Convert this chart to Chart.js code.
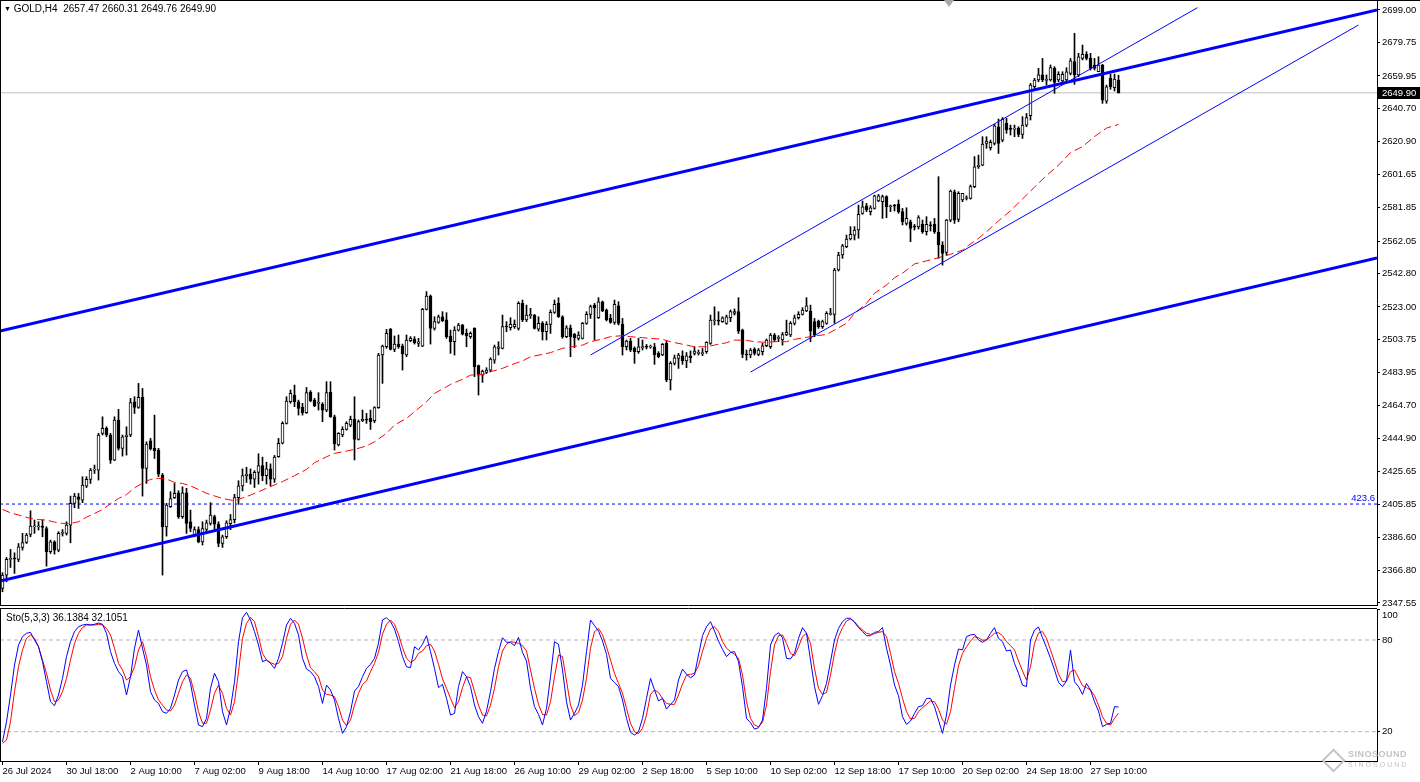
<!DOCTYPE html>
<html>
<head>
<meta charset="utf-8">
<script src="https://cdn.jsdelivr.net/npm/chart.js@4.4.1/dist/chart.umd.min.js"></script>
<style>
  html, body { margin: 0; padding: 0; background: #fff; }
  #wrap { position: relative; width: 1420px; height: 782px; overflow: hidden; font-family: 'Liberation Sans', Arial, sans-serif; }
  canvas { position: absolute; left: 0; }
  #price { top: 0; }
  #sto { top: 600px; }
  .label { position: absolute; font-size: 10px; color: #000; white-space: pre; line-height: 12px; }
  #title { left: 4px; top: 3px; }
  #title .tri { font-size: 7px; vertical-align: 1px; }
  #stoTitle { left: 6px; top: 612px; }
  #shift { position: absolute; left: 944px; top: 0; width: 0; height: 0;
    border-left: 5px solid transparent; border-right: 5px solid transparent; border-top: 7px solid #a8a8a8; }
  #mark { position: absolute; left: 1322px; top: 746px; width: 96px; height: 30px; color: #c4c4c4; }
  #mark .logo { position: absolute; left: 3px; top: 6px; width: 13px; height: 13px; border: 2px solid #c4c4c4; transform: rotate(45deg); }
  #mark .name { position: absolute; left: 26px; top: 3px; font-size: 9px; font-weight: bold; letter-spacing: 0.5px; }
  #mark .sub { position: absolute; left: 26px; top: 15px; font-size: 7px; letter-spacing: 2px; }
</style>
</head>
<body>
<div id="wrap">
  <canvas id="price" width="1420" height="612"></canvas>
  <canvas id="sto" width="1420" height="182"></canvas>
  <div id="title" class="label"><span class="tri">▼</span> GOLD,H4  2657.47 2660.31 2649.76 2649.90</div>
  <div id="stoTitle" class="label">Sto(5,3,3) 36.1384 32.1051</div>
  <div id="shift"></div>
  <div id="mark"><div class="logo"></div><div class="name">SINOSOUND</div><div class="sub">SINOSOUND</div></div>
</div>
<script>
// GOLD H4 candles, one per bar (index 0 = 26 Jul 2024)
const opens = [
  2356.2, 2364.1, 2373.4, 2373.8, 2373.4, 2380.5, 2383.4, 2388.2, 2392.7, 2392.7,
  2393.1, 2391.7, 2377.9, 2383.8, 2378.9, 2388.8, 2388.8, 2393.7, 2406.6, 2410.5,
  2408.5, 2416.8, 2420.8, 2426.3, 2426.3, 2448.1, 2451.0, 2447.1, 2432.2, 2456.0,
  2439.2, 2446.1, 2447.1, 2466.8, 2463.5, 2469.4, 2427.3, 2443.7, 2439.2, 2438.2,
  2423.4, 2392.7, 2404.6, 2409.9, 2412.9, 2398.7, 2412.9, 2395.7, 2387.8, 2391.1,
  2383.8, 2391.1, 2394.7, 2398.7, 2394.3, 2382.8, 2386.8, 2394.5, 2397.0, 2410.0,
  2417.0, 2423.0, 2424.0, 2421.0, 2425.0, 2429.0, 2423.0, 2427.0, 2421.0, 2434.2,
  2442.2, 2454.0, 2466.8, 2470.8, 2466.8, 2463.5, 2460.3, 2472.4, 2467.8, 2465.9,
  2465.3, 2461.9, 2472.4, 2457.9, 2441.2, 2447.1, 2450.4, 2453.0, 2456.4, 2444.5,
  2455.6, 2456.4, 2457.0, 2455.6, 2463.3, 2494.5, 2499.5, 2509.7, 2497.9, 2501.0,
  2499.8, 2494.5, 2503.0, 2504.0, 2501.4, 2499.8, 2521.6, 2529.5, 2510.3, 2513.9,
  2517.2, 2515.3, 2505.8, 2502.4, 2509.3, 2512.3, 2507.3, 2505.4, 2510.3, 2488.2,
  2482.6, 2484.2, 2485.6, 2491.5, 2498.5, 2498.5, 2511.3, 2510.7, 2511.3, 2510.3,
  2525.1, 2515.3, 2517.8, 2518.2, 2509.9, 2513.3, 2508.3, 2512.7, 2519.8, 2525.1,
  2517.2, 2505.4, 2510.7, 2506.8, 2504.4, 2504.4, 2513.3, 2518.6, 2524.1, 2516.6,
  2526.1, 2521.2, 2516.2, 2513.9, 2523.7, 2512.7, 2499.4, 2502.8, 2498.5, 2496.5,
  2498.9, 2499.4, 2499.2, 2499.4, 2495.5, 2494.5, 2501.4, 2479.7, 2489.6, 2492.5,
  2494.0, 2491.0, 2494.0, 2495.5, 2495.5, 2495.3, 2496.5, 2501.4, 2514.8, 2514.8,
  2514.3, 2513.3, 2516.6, 2519.2, 2520.2, 2509.3, 2494.9, 2494.5, 2498.1, 2494.9,
  2496.5, 2500.0, 2499.4, 2506.4, 2504.4, 2503.4, 2506.4, 2506.4, 2513.3, 2516.6,
  2518.6, 2520.6, 2520.6, 2514.3, 2514.6, 2511.3, 2513.3, 2518.6, 2518.6, 2544.9,
  2553.8, 2558.7, 2563.3, 2565.6, 2568.6, 2578.5, 2583.0, 2579.5, 2581.4, 2585.8,
  2585.4, 2588.4, 2582.4, 2583.0, 2583.8, 2579.5, 2572.5, 2573.5, 2570.5, 2570.5,
  2571.9, 2567.6, 2571.5, 2571.9, 2567.2, 2559.7, 2555.3, 2574.5, 2591.3, 2574.9,
  2586.4, 2587.3, 2587.3, 2594.3, 2606.1, 2607.1, 2619.9, 2617.4, 2619.9, 2629.8,
  2621.9, 2631.8, 2628.4, 2628.4, 2628.8, 2625.3, 2630.8, 2636.4, 2653.5, 2657.5,
  2660.5, 2657.3, 2657.5, 2664.4, 2657.5, 2656.9, 2657.5, 2661.4, 2668.4, 2660.5,
  2670.3, 2672.7, 2670.3, 2666.4, 2662.4, 2666.4, 2645.0, 2658.5, 2653.0, 2657.47
];
const highs = [
  2365.5, 2374.5, 2379.3, 2377.3, 2382.8, 2388.8, 2388.8, 2402.2, 2396.7, 2395.7,
  2396.7, 2392.7, 2384.8, 2384.4, 2389.8, 2391.1, 2395.7, 2410.9, 2412.5, 2412.5,
  2422.4, 2422.4, 2427.3, 2429.3, 2448.1, 2457.9, 2452.0, 2448.1, 2457.9, 2462.3,
  2447.1, 2452.0, 2468.8, 2469.8, 2477.7, 2474.7, 2443.1, 2445.1, 2458.9, 2439.2,
  2424.3, 2406.6, 2413.5, 2418.4, 2414.1, 2416.4, 2415.5, 2402.6, 2392.7, 2392.7,
  2395.7, 2396.7, 2407.0, 2399.6, 2395.7, 2387.8, 2396.3, 2400.0, 2412.0, 2420.0,
  2427.0, 2428.0, 2427.0, 2426.0, 2436.0, 2434.0, 2431.0, 2430.0, 2435.0, 2445.1,
  2455.0, 2469.8, 2473.8, 2476.7, 2467.8, 2465.9, 2475.3, 2473.4, 2468.8, 2472.2,
  2466.3, 2478.7, 2478.7, 2458.9, 2448.5, 2452.0, 2455.0, 2458.3, 2469.8, 2456.0,
  2461.9, 2459.9, 2461.9, 2463.9, 2495.5, 2500.4, 2509.7, 2510.3, 2505.8, 2506.4,
  2501.0, 2506.4, 2505.4, 2505.4, 2504.4, 2522.2, 2532.1, 2530.1, 2517.2, 2518.2,
  2520.2, 2519.6, 2509.3, 2511.3, 2513.3, 2512.7, 2509.9, 2508.3, 2510.7, 2488.6,
  2485.6, 2487.0, 2492.9, 2500.4, 2502.4, 2518.2, 2514.3, 2516.6, 2515.3, 2526.1,
  2527.1, 2524.1, 2522.2, 2518.6, 2517.2, 2514.3, 2514.3, 2521.2, 2527.1, 2528.5,
  2517.8, 2511.9, 2512.3, 2507.3, 2508.3, 2513.9, 2520.2, 2524.1, 2525.1, 2528.5,
  2526.5, 2521.8, 2518.6, 2527.1, 2526.1, 2516.2, 2503.4, 2504.4, 2499.4, 2504.4,
  2503.4, 2500.8, 2500.4, 2501.4, 2496.5, 2501.4, 2502.8, 2490.6, 2494.5, 2495.5,
  2497.0, 2496.0, 2497.0, 2499.4, 2497.5, 2498.4, 2502.4, 2518.2, 2523.1, 2520.2,
  2517.2, 2518.2, 2521.2, 2521.8, 2528.5, 2509.9, 2497.5, 2498.4, 2498.8, 2498.4,
  2501.4, 2504.0, 2507.3, 2507.3, 2506.0, 2507.9, 2515.2, 2514.3, 2518.2, 2520.2,
  2522.6, 2528.5, 2524.1, 2516.2, 2515.2, 2515.2, 2520.2, 2522.2, 2545.9, 2555.4,
  2560.1, 2565.6, 2570.6, 2570.6, 2583.4, 2585.8, 2584.4, 2583.0, 2589.3, 2589.7,
  2589.3, 2588.9, 2583.4, 2583.8, 2586.4, 2581.4, 2581.8, 2574.5, 2571.9, 2577.1,
  2574.5, 2576.5, 2573.5, 2575.5, 2600.2, 2561.7, 2574.9, 2592.3, 2592.3, 2591.3,
  2590.3, 2588.9, 2595.3, 2612.1, 2613.0, 2623.9, 2623.9, 2621.9, 2631.2, 2634.4,
  2635.2, 2634.8, 2630.8, 2630.8, 2629.8, 2635.8, 2637.7, 2655.5, 2658.5, 2664.4,
  2670.3, 2660.5, 2666.4, 2665.4, 2662.4, 2662.4, 2664.8, 2670.3, 2685.2, 2673.3,
  2678.2, 2674.3, 2673.3, 2670.3, 2671.3, 2666.8, 2654.5, 2661.0, 2661.0, 2660.31
];
const lows = [
  2354.2, 2360.1, 2368.6, 2365.1, 2372.0, 2378.9, 2382.8, 2386.8, 2388.8, 2390.8,
  2386.8, 2369.4, 2376.9, 2376.5, 2377.9, 2387.2, 2387.8, 2383.2, 2404.0, 2403.6,
  2407.0, 2416.0, 2418.4, 2424.3, 2420.4, 2447.1, 2446.1, 2430.3, 2431.9, 2438.2,
  2434.6, 2435.2, 2446.1, 2459.9, 2462.9, 2410.9, 2418.4, 2438.2, 2433.2, 2422.4,
  2364.1, 2387.2, 2404.2, 2409.5, 2397.7, 2397.7, 2388.8, 2389.8, 2386.8, 2383.2,
  2381.9, 2389.8, 2393.7, 2391.1, 2380.9, 2380.5, 2385.8, 2391.0, 2395.0, 2406.0,
  2414.0, 2419.0, 2418.0, 2416.0, 2418.0, 2420.0, 2418.0, 2417.0, 2419.0, 2433.9,
  2441.8, 2453.6, 2465.9, 2463.9, 2458.9, 2458.9, 2459.9, 2466.8, 2463.9, 2461.9,
  2455.0, 2460.9, 2457.6, 2438.2, 2440.6, 2446.1, 2450.0, 2452.0, 2432.3, 2444.1,
  2455.0, 2454.0, 2450.4, 2454.4, 2462.9, 2477.7, 2498.5, 2497.5, 2496.5, 2498.5,
  2485.6, 2493.5, 2502.4, 2501.0, 2499.5, 2499.5, 2521.2, 2501.0, 2509.3, 2513.3,
  2514.3, 2504.4, 2495.5, 2494.5, 2508.7, 2506.4, 2499.4, 2504.4, 2481.7, 2470.8,
  2478.3, 2483.6, 2484.6, 2489.6, 2494.5, 2498.1, 2508.3, 2509.3, 2510.3, 2509.3,
  2514.3, 2514.3, 2516.2, 2509.9, 2508.7, 2503.4, 2503.4, 2507.3, 2519.2, 2516.8,
  2504.4, 2504.8, 2493.5, 2498.9, 2503.4, 2504.0, 2512.7, 2516.2, 2503.4, 2516.2,
  2520.2, 2514.7, 2513.3, 2512.7, 2512.3, 2494.5, 2497.5, 2496.5, 2489.6, 2495.5,
  2497.5, 2498.1, 2498.5, 2489.0, 2492.9, 2494.1, 2478.7, 2473.8, 2488.6, 2486.6,
  2489.0, 2487.0, 2490.0, 2494.5, 2494.5, 2494.1, 2495.5, 2500.8, 2512.3, 2512.3,
  2513.9, 2512.7, 2514.3, 2518.2, 2507.3, 2492.9, 2491.5, 2492.9, 2494.5, 2494.1,
  2494.5, 2499.4, 2498.4, 2502.4, 2502.4, 2500.4, 2506.0, 2505.4, 2512.3, 2515.8,
  2518.2, 2520.2, 2502.4, 2505.4, 2510.3, 2510.3, 2512.7, 2518.2, 2513.3, 2544.3,
  2551.8, 2558.1, 2562.7, 2562.7, 2563.7, 2577.9, 2579.5, 2577.5, 2581.0, 2585.4,
  2575.5, 2575.9, 2579.5, 2579.9, 2578.5, 2571.6, 2571.5, 2561.7, 2568.6, 2569.2,
  2566.6, 2565.6, 2568.0, 2566.6, 2551.8, 2547.8, 2553.8, 2573.5, 2572.5, 2573.5,
  2585.4, 2586.4, 2586.9, 2593.7, 2605.1, 2606.7, 2617.0, 2616.0, 2619.0, 2614.0,
  2620.9, 2625.9, 2624.9, 2623.9, 2623.9, 2622.9, 2629.8, 2633.8, 2652.5, 2656.5,
  2656.5, 2654.5, 2656.9, 2649.6, 2656.5, 2656.5, 2656.9, 2660.5, 2654.9, 2659.5,
  2669.4, 2669.4, 2663.4, 2663.4, 2662.4, 2643.7, 2643.7, 2652.0, 2651.0, 2649.76
];
const closes = [
  2364.1, 2373.4, 2374.0, 2373.6, 2380.9, 2383.4, 2387.8, 2393.1, 2393.3, 2392.9,
  2392.3, 2377.9, 2383.8, 2378.9, 2388.8, 2389.2, 2393.7, 2406.6, 2410.9, 2408.9,
  2417.4, 2420.8, 2426.3, 2426.7, 2447.1, 2451.0, 2447.1, 2432.2, 2456.0, 2439.2,
  2446.1, 2447.1, 2466.4, 2463.5, 2469.4, 2427.3, 2441.7, 2439.0, 2437.8, 2423.9,
  2392.7, 2405.6, 2409.5, 2412.5, 2398.7, 2412.9, 2394.7, 2391.7, 2391.1, 2383.8,
  2391.7, 2395.1, 2399.6, 2394.3, 2382.8, 2386.8, 2395.1, 2397.0, 2410.0, 2417.0,
  2423.0, 2424.0, 2421.0, 2425.0, 2429.0, 2423.0, 2427.0, 2421.0, 2434.0, 2442.2,
  2454.0, 2467.2, 2471.8, 2466.8, 2462.9, 2460.3, 2472.2, 2467.4, 2464.3, 2466.3,
  2461.9, 2472.2, 2457.9, 2441.8, 2448.1, 2450.4, 2454.0, 2456.4, 2444.5, 2455.0,
  2456.4, 2456.0, 2455.0, 2463.3, 2494.5, 2499.8, 2507.4, 2497.9, 2501.0, 2499.5,
  2495.1, 2503.4, 2504.4, 2501.8, 2502.4, 2521.6, 2529.5, 2510.3, 2514.3, 2517.2,
  2514.9, 2505.4, 2502.4, 2509.3, 2512.3, 2506.8, 2506.0, 2507.3, 2487.6, 2482.6,
  2485.0, 2485.6, 2492.1, 2499.4, 2499.4, 2511.3, 2511.1, 2512.7, 2512.7, 2525.1,
  2515.3, 2518.2, 2518.6, 2510.3, 2513.3, 2508.3, 2512.7, 2519.8, 2524.5, 2517.2,
  2505.4, 2510.7, 2505.4, 2504.8, 2506.4, 2513.3, 2518.6, 2523.2, 2522.6, 2526.1,
  2520.6, 2515.3, 2513.9, 2524.5, 2513.3, 2499.4, 2502.8, 2497.5, 2496.5, 2499.4,
  2499.4, 2499.2, 2499.4, 2494.5, 2493.5, 2500.8, 2479.7, 2489.6, 2492.9, 2494.5,
  2491.0, 2494.0, 2493.0, 2496.9, 2495.7, 2495.9, 2502.0, 2515.2, 2515.0, 2514.6,
  2516.6, 2517.2, 2520.2, 2520.2, 2508.7, 2494.9, 2494.5, 2497.5, 2495.5, 2497.5,
  2500.0, 2503.4, 2506.4, 2503.4, 2504.8, 2506.7, 2507.9, 2513.3, 2516.6, 2518.6,
  2521.2, 2523.7, 2508.7, 2506.4, 2511.3, 2514.3, 2519.2, 2519.2, 2544.9, 2553.8,
  2559.3, 2563.3, 2566.0, 2568.6, 2577.9, 2582.4, 2580.5, 2581.8, 2588.9, 2588.9,
  2588.4, 2582.4, 2582.6, 2582.8, 2579.5, 2573.5, 2575.5, 2569.6, 2570.3, 2575.9,
  2567.6, 2571.9, 2571.1, 2567.6, 2559.7, 2554.7, 2574.5, 2591.7, 2574.5, 2590.3,
  2590.3, 2587.7, 2594.3, 2606.1, 2607.1, 2619.6, 2621.3, 2620.5, 2630.4, 2619.9,
  2634.4, 2627.9, 2628.2, 2628.8, 2625.3, 2630.8, 2635.2, 2654.5, 2657.5, 2660.5,
  2657.5, 2657.7, 2664.8, 2656.1, 2660.9, 2660.9, 2662.4, 2668.8, 2660.5, 2671.3,
  2672.7, 2670.3, 2664.4, 2664.4, 2666.4, 2645.6, 2653.5, 2653.5, 2658.0, 2649.90
];

// red dashed moving average, read at these bar indices
const maBars = [0,2,5,7,9,11,13,15,17,19,21,23,25,27,29,31,33,35,37,39,41,43,45,47,49,51,53,55,58,62,
  66,70,73,76,78,81,83,86,88,91,93,96,98,101,103,106,108,111,112,115,117,120,122,125,127,130,132,135,137,140,
  142,145,147,150,152,155,157,160,162,165,167,170,173,176,178,181,183,186,188,191,193,196,198,201,203,206,208,211,213,216,
  218,221,223,225,228,231,234,237,240,241,244,246,249,252,255,258,261,264,267,270,273,276,279];
const maValues = [2403.0,2401.0,2399.0,2397.6,2397.0,2396.7,2395.5,2394.7,2394.7,2395.7,2398.4,2400.6,2403.0,2406.4,2409.5,2411.8,2415.8,2418.6,2420.8,2421.4,
  2421.0,2419.0,2418.4,2417.0,2414.8,2412.6,2411.0,2409.5,2408.1,2411.5,2415.5,2419.5,2423.0,2426.7,2430.7,2434.2,2436.2,2437.6,2438.6,2440.6,
  2443.1,2448.1,2453.0,2457.0,2460.9,2466.8,2471.8,2475.7,2477.1,2480.1,2482.6,2483.0,2484.6,2486.6,2488.6,2491.0,2493.5,2494.9,2495.9,2498.5,
  2499.2,2500.4,2502.4,2504.0,2505.4,2506.0,2505.4,2504.8,2504.4,2503.8,2502.4,2500.9,2499.4,2499.4,2500.4,2501.8,2503.4,2503.2,2502.4,2502.0,
  2502.4,2502.4,2503.8,2505.0,2505.8,2506.7,2509.3,2513.3,2519.2,2525.1,2531.1,2536.0,2540.3,2543.0,2548.5,2550.3,2552.2,2554.2,2556.7,2558.7,
  2563.6,2567.6,2574.0,2580.0,2587.0,2594.0,2600.9,2607.0,2614.5,2618.0,2624.0,2629.0,2631.2];

// Stochastic (5,3,3): main (blue) and signal (red)
const stoMain = [
  13.4, 26.5, 44.0, 63.6, 76.7, 82.2, 84.4, 85.0, 80.0, 75.6,
  65.8, 52.7, 39.6, 37.0, 44.0, 54.9, 69.1, 78.9, 85.5, 88.7,
  89.8, 90.3, 89.8, 90.3, 91.1, 90.3, 84.4, 72.4, 64.7, 59.3,
  56.0, 44.0, 56.0, 74.6, 86.5, 74.6, 63.6, 46.2, 40.7, 38.5,
  33.1, 32.0, 35.3, 44.0, 53.8, 59.3, 60.4, 51.6, 37.4, 24.4,
  23.3, 28.7, 48.4, 58.2, 52.7, 33.1, 24.4, 35.3, 52.7, 78.9,
  94.6, 98.1, 93.1, 85.5, 76.7, 65.8, 66.9, 64.7, 61.4, 68.0,
  77.8, 89.8, 94.2, 90.9, 83.3, 68.0, 61.0, 59.3, 56.0, 49.5,
  38.5, 50.5, 47.3, 40.7, 28.7, 18.9, 23.3, 33.1, 46.6, 49.5,
  56.0, 61.4, 64.1, 68.0, 78.0, 93.1, 94.6, 92.0, 87.2, 78.9,
  69.1, 62.5, 61.9, 75.6, 73.5, 77.2, 82.8, 72.4, 61.4, 48.8,
  51.0, 41.8, 30.9, 32.0, 49.5, 59.3, 56.0, 49.5, 37.4, 29.8,
  25.5, 33.5, 46.2, 61.4, 72.4, 81.5, 78.5, 78.5, 76.3, 81.7,
  71.9, 66.3, 48.4, 36.4, 31.3, 24.4, 35.3, 56.0, 78.9, 77.2,
  60.4, 39.6, 27.6, 32.0, 37.4, 50.5, 72.4, 93.1, 89.4, 85.9,
  79.3, 70.6, 54.9, 52.1, 49.5, 40.7, 28.7, 19.6, 17.8, 20.0,
  28.7, 41.8, 54.9, 47.3, 40.1, 41.8, 34.8, 37.9, 40.7, 53.8,
  61.0, 57.5, 55.3, 57.1, 70.2, 82.8, 88.7, 92.0, 85.9, 79.3,
  73.9, 69.1, 71.9, 72.4, 65.8, 49.5, 28.7, 25.9, 21.7, 22.6,
  27.6, 48.4, 76.7, 82.8, 84.8, 81.5, 68.0, 67.6, 71.3, 81.1,
  88.1, 84.4, 66.9, 49.5, 37.9, 43.6, 51.6, 65.8, 80.0, 87.6,
  92.0, 94.2, 94.2, 91.6, 88.1, 85.5, 82.8, 82.8, 85.0, 85.5,
  88.1, 74.6, 63.6, 50.5, 43.6, 29.8, 24.8, 27.0, 32.0, 36.4,
  37.0, 41.8, 41.8, 36.4, 27.6, 18.9, 30.9, 50.5, 63.6, 74.1,
  73.5, 82.2, 83.3, 83.7, 80.0, 78.5, 80.0, 84.4, 88.1, 81.1,
  78.9, 72.8, 73.5, 64.7, 58.2, 50.5, 49.5, 80.0, 86.5, 88.5,
  81.5, 75.0, 68.0, 60.4, 52.3, 49.5, 53.2, 73.5, 52.7, 49.5,
  44.4, 51.6, 47.3, 39.6, 33.5, 23.3, 24.8, 25.5, 36.4, 36.14
];
const stoSignal = [
  12.4, 14.5, 26.5, 46.2, 62.5, 73.5, 81.1, 83.3, 81.1, 75.6,
  66.9, 58.2, 47.3, 39.6, 40.7, 46.2, 54.9, 66.9, 77.8, 84.4,
  88.1, 89.8, 89.8, 89.8, 90.3, 89.8, 87.6, 83.3, 74.6, 64.7,
  60.4, 53.8, 56.0, 62.5, 73.5, 78.9, 69.1, 56.0, 47.3, 40.7,
  37.4, 34.2, 33.5, 37.4, 45.1, 52.7, 57.1, 54.9, 45.1, 33.1,
  25.5, 25.5, 34.2, 45.1, 50.5, 45.1, 35.3, 30.9, 39.6, 59.3,
  81.1, 90.9, 94.8, 92.0, 82.2, 71.3, 66.9, 65.2, 64.1, 64.7,
  69.1, 81.1, 90.3, 93.1, 90.3, 81.1, 70.2, 61.9, 59.3, 56.0,
  47.3, 44.4, 44.0, 42.9, 36.4, 27.6, 23.9, 27.6, 37.4, 45.1,
  50.9, 53.2, 59.3, 64.7, 72.0, 83.9, 90.3, 93.1, 90.3, 83.7,
  75.0, 68.0, 65.4, 66.9, 71.3, 72.8, 76.3, 77.2, 72.8, 64.1,
  54.5, 48.4, 41.8, 35.7, 39.6, 48.8, 56.0, 55.3, 46.2, 37.4,
  30.9, 30.3, 37.4, 48.4, 62.5, 72.8, 77.2, 78.9, 78.5, 77.8,
  76.3, 72.8, 60.4, 48.4, 37.9, 31.3, 30.9, 39.6, 56.0, 70.2,
  69.1, 53.2, 37.4, 30.5, 32.6, 40.7, 54.9, 74.6, 85.5, 87.6,
  83.3, 75.6, 66.9, 58.2, 51.6, 45.1, 35.3, 25.5, 20.0, 18.7,
  22.2, 30.9, 44.4, 47.3, 45.7, 41.8, 38.5, 37.9, 37.9, 44.0,
  51.2, 57.1, 57.5, 58.2, 63.2, 72.4, 81.1, 87.2, 88.7, 85.5,
  78.9, 74.6, 72.4, 70.6, 68.0, 57.1, 39.6, 28.7, 24.4, 23.3,
  26.1, 37.4, 59.3, 76.7, 82.8, 83.3, 77.8, 71.3, 69.7, 75.6,
  82.2, 84.4, 77.8, 61.4, 48.4, 44.4, 45.7, 57.1, 71.3, 82.2,
  88.1, 92.4, 93.7, 92.0, 88.9, 86.5, 84.4, 83.7, 84.1, 85.0,
  85.5, 82.2, 71.3, 59.3, 51.6, 41.8, 33.1, 28.3, 28.7, 33.1,
  35.7, 37.9, 40.1, 39.6, 34.8, 27.6, 24.8, 33.1, 48.4, 63.2,
  71.3, 75.6, 79.3, 82.2, 81.5, 79.8, 80.2, 82.0, 84.4, 84.8,
  82.8, 78.9, 76.3, 73.5, 66.3, 59.7, 53.8, 62.5, 77.8, 84.6,
  85.5, 81.1, 73.5, 65.8, 57.7, 52.7, 53.2, 59.3, 60.4, 55.3,
  50.1, 48.8, 47.3, 43.6, 37.4, 29.8, 25.5, 24.4, 28.7, 32.11
];

// drawn objects: [bar, price] end points
const upperChannel = [[-0.625, 2508.7], [343.625, 2699.0]];
const lowerChannel = [[-0.625, 2360.6], [343.625, 2552.0]];
const upperTrend = [[147, 2494.5], [298.75, 2700.4]];
const lowerTrend = [[187, 2484.4], [339, 2690.1]];
const fibLevel = 2406.2;
const fibText = '423.6';
const lastClose = 2649.90;

const priceTicks = [2699.00, 2679.75, 2659.95, 2640.70, 2620.90, 2601.65, 2581.85, 2562.05, 2542.80,
  2523.00, 2503.75, 2483.95, 2464.70, 2444.90, 2425.65, 2405.85, 2386.60, 2366.80, 2347.55];
const stoTicks = [20, 80, 100];
const stoLevels = [80, 20];
const timeLabels = ['26 Jul 2024', '30 Jul 18:00', '2 Aug 10:00', '7 Aug 02:00', '9 Aug 18:00',
  '14 Aug 10:00', '17 Aug 02:00', '21 Aug 18:00', '26 Aug 10:00', '29 Aug 02:00', '2 Sep 18:00',
  '5 Sep 10:00', '10 Sep 02:00', '12 Sep 18:00', '17 Sep 10:00', '20 Sep 02:00', '24 Sep 18:00', '27 Sep 10:00'];

const X_MIN = -0.625, X_MAX = 343.625;
const FONT = { family: 'Liberation Sans', size: 9.5 };

Chart.defaults.font.family = 'Liberation Sans';
Chart.defaults.color = '#000';

const idx = opens.map((_, i) => i);

function lineSet(pts, color, width, dash, order) {
  return {
    type: 'line',
    data: pts.map(([x, y]) => ({ x, y })),
    borderColor: color, borderWidth: width, borderDash: dash || [],
    pointRadius: 0, tension: 0, fill: false, order
  };
}

// window frame: left edge, top and bottom of each panel
function framePlugin(fullTop) {
  return {
    id: 'frame',
    afterDraw(chart) {
      const { ctx, chartArea: a } = chart;
      ctx.save();
      ctx.strokeStyle = '#000';
      ctx.lineWidth = 1;
      ctx.beginPath();
      ctx.moveTo(0, a.top - 0.5); ctx.lineTo(fullTop ? chart.width : a.right, a.top - 0.5);
      ctx.moveTo(0, a.bottom + 0.5); ctx.lineTo(a.right, a.bottom + 0.5);
      ctx.moveTo(0.5, a.top); ctx.lineTo(0.5, a.bottom);
      ctx.stroke();
      ctx.restore();
    }
  };
}

const priceTagPlugin = {
  id: 'priceTag',
  afterDraw(chart) {
    const { ctx, chartArea: a, scales } = chart;
    const y = Math.round(scales.y.getPixelForValue(lastClose));
    ctx.save();
    ctx.fillStyle = '#000';
    ctx.fillRect(a.right + 1, y - 6, 43, 12);
    ctx.fillStyle = '#fff';
    ctx.font = '9.5px "Liberation Sans"';
    ctx.textBaseline = 'middle';
    ctx.fillText(lastClose.toFixed(2), a.right + 5, y + 0.5);
    const fy = scales.y.getPixelForValue(fibLevel);
    ctx.fillStyle = '#0000ff';
    ctx.textAlign = 'right';
    ctx.textBaseline = 'bottom';
    ctx.fillText(fibText, a.right - 2, fy - 1);
    ctx.restore();
  }
};

// MT4 prints the top "100" label a little below its level
const topLabelPlugin = {
  id: 'topLabel',
  afterDraw(chart) {
    const { ctx, chartArea: a, scales } = chart;
    const y = scales.y.getPixelForValue(100);
    ctx.save();
    ctx.fillStyle = '#000';
    ctx.font = '9.5px "Liberation Sans"';
    ctx.textBaseline = 'middle';
    ctx.fillText('100', a.right + 5, y + 6);
    ctx.restore();
  }
};

new Chart(document.getElementById('price'), {
  type: 'bar',
  data: {
    datasets: [
      lineSet(upperChannel, '#0000ff', 3, null, 0),
      lineSet(lowerChannel, '#0000ff', 3, null, 0),
      lineSet(upperTrend, '#0000ff', 1, null, 0),
      lineSet(lowerTrend, '#0000ff', 1, null, 0),
      {
        type: 'line', data: maBars.map((b, k) => ({ x: b, y: maValues[k] })),
        borderColor: '#ff0000', borderWidth: 1, borderDash: [8, 4], pointRadius: 0, tension: 0, fill: false, order: 0
      },
      lineSet([[X_MIN, fibLevel], [X_MAX, fibLevel]], '#0000ff', 1, [3, 3], 3),
      lineSet([[X_MIN, lastClose], [X_MAX, lastClose]], '#c0c0c0', 1, null, 3),
      {
        data: idx.map(i => ({ x: i, y: [opens[i], closes[i]] })),
        backgroundColor: idx.map(i => closes[i] >= opens[i] ? '#fff' : '#000'),
        borderColor: '#000', borderWidth: 1, borderSkipped: false, minBarLength: 1,
        barThickness: 3, grouped: false, order: 1
      },
      {
        data: idx.map(i => ({ x: i, y: [lows[i], highs[i]] })),
        backgroundColor: '#000', borderWidth: 0, barThickness: 1, grouped: false, order: 2
      }
    ]
  },
  options: {
    responsive: false, animation: false, devicePixelRatio: 1,
    layout: { padding: { top: 1, bottom: 7, left: 0, right: 0 } },
    plugins: { legend: { display: false }, tooltip: { enabled: false } },
    scales: {
      x: { type: 'linear', min: X_MIN, max: X_MAX, display: false, offset: false, grid: { offset: false } },
      y: {
        position: 'right', min: 2346.36, max: 2704.33,
        afterBuildTicks: s => { s.ticks = priceTicks.map(v => ({ value: v })); },
        afterFit: s => { s.width = 43; s.paddingTop = 0; s.paddingBottom = 0; },
        ticks: { font: FONT, color: '#000', padding: 2, autoSkip: false, callback: v => Number(v).toFixed(2) },
        grid: { drawOnChartArea: false, tickLength: 3, color: '#000' },
        border: { display: true, color: '#000' }
      }
    }
  },
  plugins: [framePlugin(true), priceTagPlugin]
});

new Chart(document.getElementById('sto'), {
  type: 'line',
  data: {
    datasets: [
      lineSet([[X_MIN, stoLevels[0]], [X_MAX, stoLevels[0]]], '#b4b4b4', 1, [4, 3], 2),
      lineSet([[X_MIN, stoLevels[1]], [X_MAX, stoLevels[1]]], '#b4b4b4', 1, [4, 3], 2),
      {
        data: stoSignal.map((v, i) => ({ x: i, y: v })),
        borderColor: '#ff0000', borderWidth: 1, pointRadius: 0, tension: 0, fill: false, order: 1
      },
      {
        data: stoMain.map((v, i) => ({ x: i, y: v })),
        borderColor: '#0000ff', borderWidth: 1, pointRadius: 0, tension: 0, fill: false, order: 0
      }
    ]
  },
  options: {
    responsive: false, animation: false, devicePixelRatio: 1,
    layout: { padding: { top: 9, bottom: 0, left: 0, right: 0 } },
    plugins: { legend: { display: false }, tooltip: { enabled: false } },
    scales: {
      x: {
        type: 'linear', min: X_MIN, max: X_MAX, offset: false,
        afterBuildTicks: s => { s.ticks = timeLabels.map((_, k) => ({ value: k * 16 })); },
        afterFit: s => { s.height = 21; s.paddingLeft = 0; s.paddingRight = 0; },
        ticks: { font: FONT, color: '#000', align: 'start', autoSkip: false, maxRotation: 0, padding: 1,
          callback: v => timeLabels[Math.round(v / 16)] },
        grid: { drawOnChartArea: false, tickLength: 4, color: '#000', offset: false },
        border: { display: true, color: '#000' }
      },
      y: {
        position: 'right', min: 0.83, max: 100.28,
        afterBuildTicks: s => { s.ticks = stoTicks.map(v => ({ value: v })); },
        afterFit: s => { s.width = 43; s.paddingTop = 0; s.paddingBottom = 0; },
        ticks: { font: FONT, color: '#000', padding: 2, autoSkip: false, callback: v => (v === 100 ? '' : String(v)) },
        grid: { drawOnChartArea: false, tickLength: 3, color: '#000' },
        border: { display: true, color: '#000' }
      }
    }
  },
  plugins: [framePlugin(false), topLabelPlugin]
});
</script>
</body>
</html>
